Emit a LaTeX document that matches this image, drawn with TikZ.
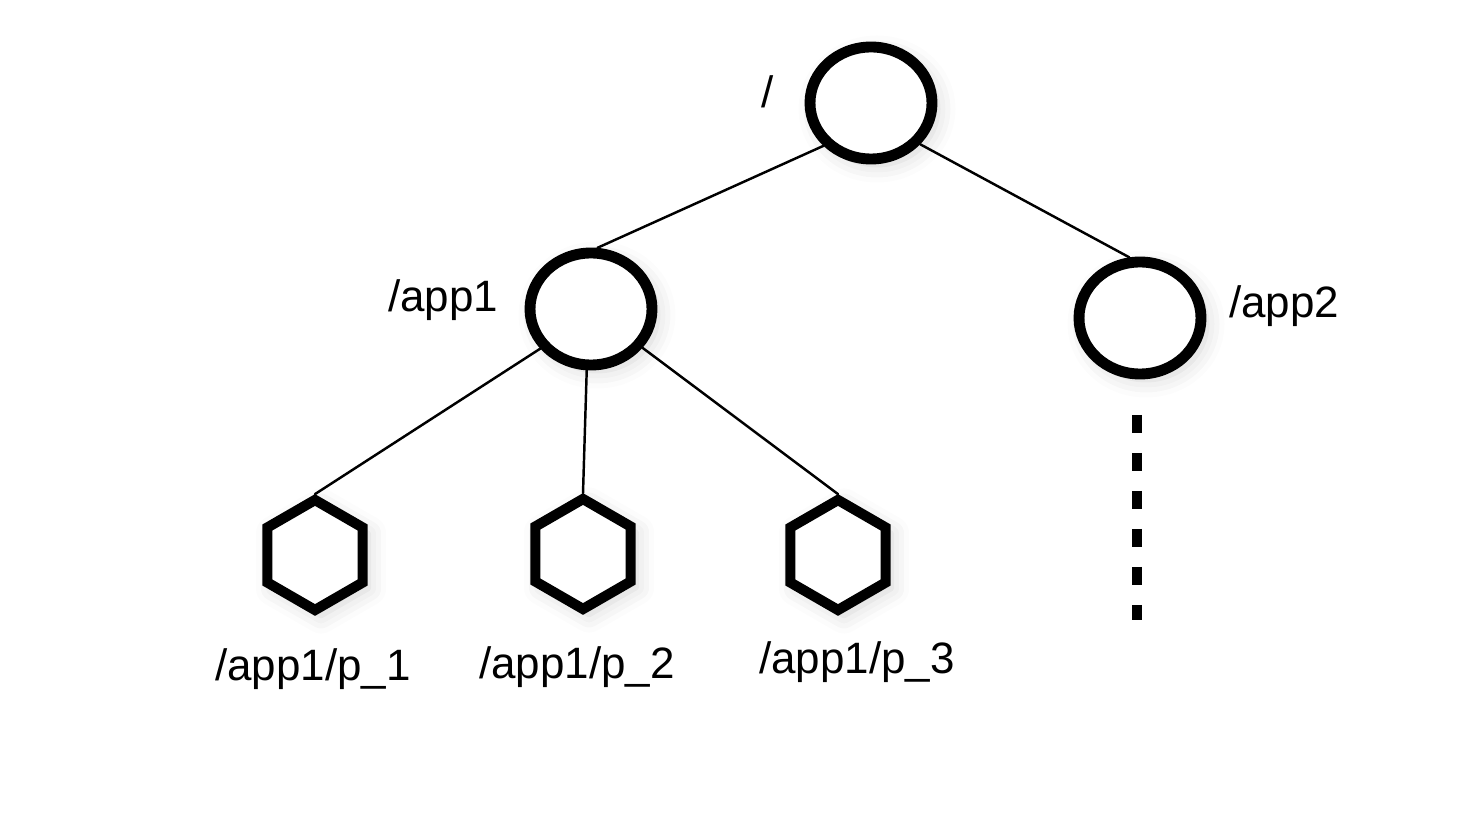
\documentclass[tikz,border=0pt]{standalone}
\usepackage{fontspec}
\setmainfont{Liberation Sans}
\usetikzlibrary{shapes.geometric,shadows.blur}

\begin{document}
\begin{tikzpicture}[x=1cm,y=1cm]
\tikzset{
  znode/.style={ellipse,draw=black,fill=white,line width=6.2pt,minimum width=2.44cm,minimum height=2.24cm,inner sep=0pt,
    blur shadow={shadow xshift=0.12cm,shadow yshift=-0.12cm,shadow blur radius=0.35cm,shadow opacity=18}},
  leafnode/.style={regular polygon,regular polygon sides=6,regular polygon rotate=30,draw=black,fill=white,line width=5.8pt,
    line join=miter,minimum size=2.2cm,inner sep=0pt,
    blur shadow={shadow xshift=0.12cm,shadow yshift=-0.12cm,shadow blur radius=0.35cm,shadow opacity=18}},
  treeedge/.style={draw=black,line width=1.4pt,line cap=round},
  moreedge/.style={draw=black,line width=0.2cm,dash pattern=on 0.36cm off 0.40cm},
  pathlabel/.style={anchor=base,inner sep=0pt,font=\fontsize{25pt}{30pt}\selectfont}
}
\useasboundingbox (0,0) rectangle (29.48,16.68);
\node[znode] (n_root) at (17.42,14.62) {};
\node[znode] (n_app1) at (11.82,10.50) {};
\node[znode] (n_app2) at (22.80,10.32) {};
\node[leafnode] (n_p1) at (6.30,5.58) {};
\node[leafnode] (n_p2) at (11.66,5.60) {};
\node[leafnode] (n_p3) at (16.76,5.58) {};
\node[pathlabel] (l_root) at (15.36,14.52) {/};
\node[pathlabel] (l_app1) at (8.86,10.44) {/app1};
\node[pathlabel] (l_app2) at (25.68,10.32) {/app2};
\node[pathlabel] (l_p1) at (6.26,3.08) {/app1/p\_1};
\node[pathlabel] (l_p2) at (11.54,3.12) {/app1/p\_2};
\node[pathlabel] (l_p3) at (17.14,3.22) {/app1/p\_3};
\coordinate (c_more_top) at (22.74,8.38);
\coordinate (c_more_bot) at (22.74,4.28);
\draw[treeedge] (n_root.222) -- (n_app1.84);
\draw[treeedge] (n_root.320) -- (n_app2.100);
\draw[treeedge] (n_app1.218) -- (n_p1.north);
\draw[treeedge] (n_app1.266) -- (n_p2.north);
\draw[treeedge] (n_app1.323) -- (n_p3.north);
\draw[moreedge] (c_more_top) -- (c_more_bot);
\end{tikzpicture}
\end{document}
